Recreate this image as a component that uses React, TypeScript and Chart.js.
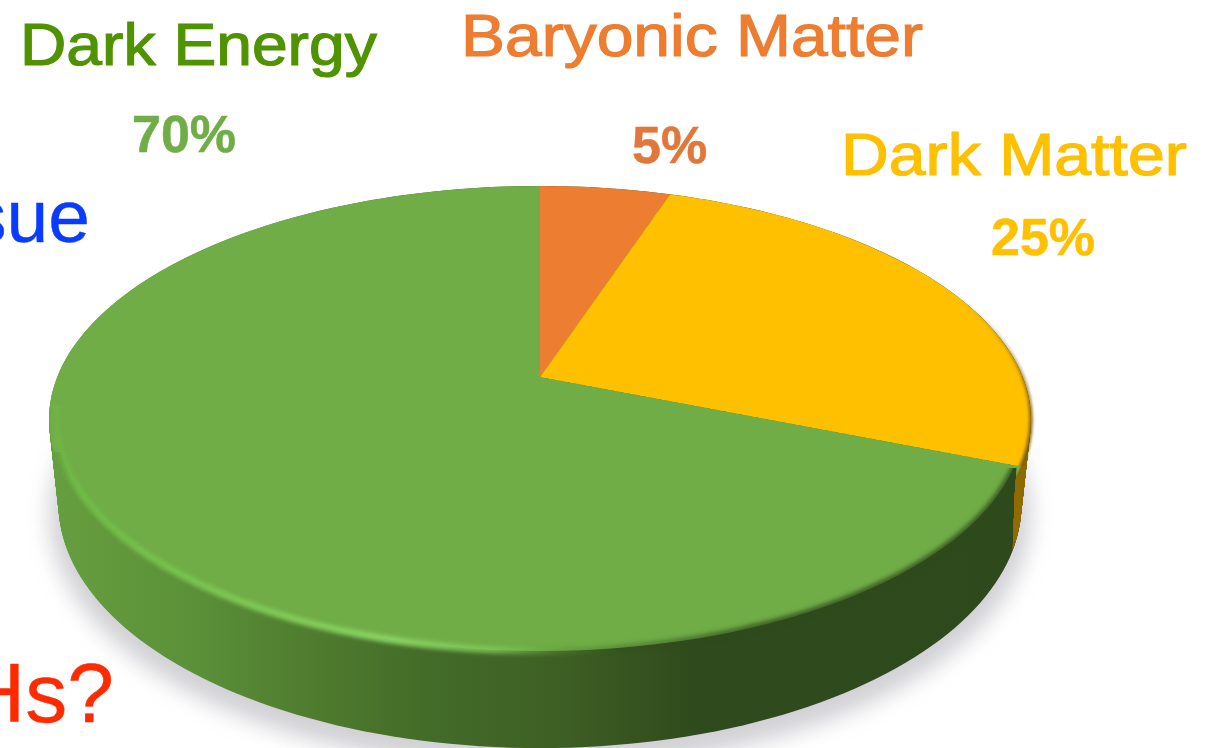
import React, { useEffect, useRef } from "react";
import { Chart, registerables } from "chart.js";

Chart.register(...registerables);

const categories = ["Baryonic Matter", "Dark Matter", "Dark Energy"];
const shares = [5, 25, 70];
const sliceColors = ["#ED7D31", "#FFC000", "#70AD47"];

// Disc geometry: apex on screen, radius in the disc's plane, camera tilt and thickness.
const APEX_X = 540;
const APEX_Y = 377;
const DISC_R = 482.8;
const COS_T = 0.4677;
const SIN_T = 0.884;
const CAMERA = 2345;
const THICKNESS = 96;
const FACE = { cx: 540, cy: 419.5, rx: 491, ry: 233.5 };
const RIDGE = { cx: 540, cy: 420, rx: 484, ry: 231 };
const CANVAS = 1200;

const FONT = '"Liberation Sans", Arial, sans-serif';

type Caption = { text: string; color: string; size: number; base: number; left?: number; right?: number; bold?: boolean; sx?: number };

const captions: Caption[] = [
  { text: categories[2], color: "#4F9300", size: 60, base: 66, left: 20, sx: 1.07 },
  { text: `${shares[2]}%`, color: "#70AD47", size: 52, base: 152, left: 132, bold: true },
  { text: categories[0], color: "#ED7D31", size: 59, base: 57, left: 461, sx: 1.118 },
  { text: `${shares[0]}%`, color: "#E2773A", size: 52, base: 163, left: 632, bold: true },
  { text: categories[1], color: "#FFC000", size: 59, base: 176, left: 841, sx: 1.122 },
  { text: `${shares[1]}%`, color: "#FFC000", size: 52, base: 255, left: 991, bold: true },
  { text: "sue", color: "#0A3CFF", size: 75, base: 242, right: 90 },
  { text: "Hs?", color: "#FF2A00", size: 84, base: 722, right: 114 },
];

// Screen position of a rim point at angle t, h pixels below the disc's top face.
function rim(t: number, h: number): [number, number] {
  const x = DISC_R * Math.cos(t);
  const y = DISC_R * Math.sin(t);
  const k = CAMERA / (CAMERA - (y * SIN_T - h * COS_T));
  return [APEX_X + x * k, APEX_Y + (y * COS_T + h * SIN_T) * k];
}

function rimPath(ctx: CanvasRenderingContext2D, h: number) {
  ctx.beginPath();
  for (let i = 0; i <= 240; i++) {
    const [x, y] = rim((i / 240) * Math.PI * 2, h);
    if (i === 0) ctx.moveTo(x, y);
    else ctx.lineTo(x, y);
  }
  ctx.closePath();
}

function wallGradient(ctx: CanvasRenderingContext2D) {
  const g = ctx.createLinearGradient(48, 0, 1030, 0);
  g.addColorStop(0, "#669F3F");
  g.addColorStop(0.15, "#5B9038");
  g.addColorStop(0.28, "#4E7A2E");
  g.addColorStop(0.4, "#426A28");
  g.addColorStop(0.52, "#3E5F24");
  g.addColorStop(0.66, "#2F4A1C");
  g.addColorStop(1, "#2E4A1C");
  return g;
}

function paintWall(ctx: CanvasRenderingContext2D) {
  // soft contact shadow
  ctx.save();
  ctx.filter = "blur(12px)";
  ctx.fillStyle = "rgba(130,130,140,0.34)";
  ctx.strokeStyle = "rgba(130,130,140,0.34)";
  ctx.lineWidth = 14;
  ctx.translate(0, 11);
  rimPath(ctx, THICKNESS);
  ctx.fill();
  ctx.stroke();
  ctx.restore();

  ctx.fillStyle = wallGradient(ctx);
  for (let h = 0; h <= THICKNESS; h++) {
    rimPath(ctx, h);
    ctx.fill();
  }

  // the sliver of the yellow slice's wall beside the last slice boundary
  ctx.save();
  ctx.beginPath();
  ctx.moveTo(1017, 440);
  ctx.lineTo(1045, 440);
  ctx.lineTo(1045, 570);
  ctx.lineTo(1012, 570);
  ctx.closePath();
  ctx.clip();
  ctx.fillStyle = "#8F6C00";
  for (let h = 0; h <= THICKNESS; h++) {
    rimPath(ctx, h);
    ctx.fill();
  }
  ctx.restore();
}

function paintBevel(ctx: CanvasRenderingContext2D) {
  const F = FACE;
  const R = RIDGE;

  // the band between the face's ridge and its outer rim belongs to the wall
  ctx.save();
  ctx.beginPath();
  ctx.rect(0, 452, 540, 296);
  ctx.rect(540, 468, 476, 280);
  ctx.clip();
  ctx.fillStyle = wallGradient(ctx);
  ctx.beginPath();
  ctx.ellipse(F.cx, F.cy, F.rx + 1, F.ry + 1, 0, 0, Math.PI * 2);
  ctx.ellipse(R.cx, R.cy, R.rx, R.ry, 0, 0, Math.PI * 2);
  ctx.fill("evenodd");
  ctx.restore();

  // light ridge along the near left rim, fading out at both ends
  ctx.save();
  ctx.beginPath();
  ctx.rect(0, 405, 640, 343);
  ctx.clip();
  ctx.filter = "blur(2px)";
  const hi = ctx.createLinearGradient(48, 0, 620, 0);
  hi.addColorStop(0, "rgba(112,190,72,0.15)");
  hi.addColorStop(0.05, "rgba(112,190,72,0.9)");
  hi.addColorStop(0.3, "rgba(124,200,84,1)");
  hi.addColorStop(0.6, "rgba(138,212,100,1)");
  hi.addColorStop(0.78, "rgba(130,202,90,0.8)");
  hi.addColorStop(0.9, "rgba(110,176,70,0.3)");
  hi.addColorStop(1, "rgba(110,176,70,0)");
  ctx.strokeStyle = hi;
  ctx.lineWidth = 7;
  ctx.beginPath();
  ctx.ellipse(R.cx, R.cy, R.rx, R.ry, 0, 0, Math.PI * 2);
  ctx.stroke();
  ctx.restore();

  // shaded rim where the face turns into the dark side of the wall
  ctx.save();
  ctx.beginPath();
  ctx.rect(520, 468, 497, 280);
  ctx.clip();
  ctx.filter = "blur(2.5px)";
  const lo = ctx.createLinearGradient(520, 0, 760, 0);
  lo.addColorStop(0, "rgba(47,74,28,0)");
  lo.addColorStop(1, "rgba(47,74,28,1)");
  ctx.strokeStyle = lo;
  ctx.lineWidth = 5;
  ctx.beginPath();
  ctx.ellipse(R.cx, R.cy, R.rx, R.ry, 0, 0, Math.PI * 2);
  ctx.stroke();
  ctx.restore();

  // dark gold rim on the yellow slice, fading away up the curve
  ctx.save();
  ctx.beginPath();
  ctx.rect(960, 280, 90, 186);
  ctx.clip();
  ctx.filter = "blur(1.5px)";
  const gold = ctx.createLinearGradient(0, 300, 0, 420);
  gold.addColorStop(0, "rgba(125,92,0,0)");
  gold.addColorStop(1, "rgba(125,92,0,0.95)");
  ctx.strokeStyle = gold;
  ctx.lineWidth = 3.5;
  ctx.beginPath();
  ctx.ellipse(F.cx, F.cy, F.rx, F.ry, 0, 0, Math.PI * 2);
  ctx.stroke();
  ctx.restore();
}

export default function App() {
  const wallRef = useRef<HTMLCanvasElement>(null);
  const faceRef = useRef<HTMLCanvasElement>(null);
  const bevelRef = useRef<HTMLCanvasElement>(null);

  useEffect(() => {
    const wall = wallRef.current!.getContext("2d")!;
    wall.clearRect(0, 0, 1217, 748);
    paintWall(wall);
    const bevel = bevelRef.current!.getContext("2d")!;
    bevel.clearRect(0, 0, 1217, 748);
    paintBevel(bevel);

    const chart = new Chart(faceRef.current!, {
      type: "pie",
      data: {
        labels: categories,
        datasets: [{ data: shares, backgroundColor: sliceColors, borderWidth: 0, radius: 585 }],
      },
      options: {
        responsive: false,
        animation: false,
        layout: { padding: 0 },
        plugins: { legend: { display: false }, tooltip: { enabled: false } },
      },
    });
    return () => chart.destroy();
  }, []);

  const layer: React.CSSProperties = { position: "absolute", left: 0, top: 0 };

  return (
    <div style={{ position: "fixed", left: 0, top: 0, width: 1217, height: 748, overflow: "hidden", background: "#fff" }}>
      <canvas ref={wallRef} width={1217} height={748} style={layer} />
      <div
        style={{
          ...layer,
          width: 1217,
          height: 748,
          clipPath: `ellipse(${FACE.rx}px ${FACE.ry}px at ${FACE.cx}px ${FACE.cy}px)`,
        }}
      >
        <canvas
          ref={faceRef}
          width={CANVAS}
          height={CANVAS}
          style={{
            position: "absolute",
            left: APEX_X - CANVAS / 2,
            top: APEX_Y - CANVAS / 2,
            width: CANVAS,
            height: CANVAS,
            transformOrigin: "50% 50%",
            transform: `perspective(${CAMERA}px) rotateX(62.1deg) skewY(4.2deg)`,
          }}
        />
      </div>
      <canvas ref={bevelRef} width={1217} height={748} style={layer} />
      {captions.map((c) => (
        <div
          key={c.text}
          style={{
            position: "absolute",
            left: c.left,
            right: c.right !== undefined ? 1217 - c.right : undefined,
            top: c.base - c.size * 0.8465,
            fontFamily: FONT,
            fontSize: c.size,
            lineHeight: 1,
            fontWeight: c.bold ? 700 : 400,
            color: c.color,
            whiteSpace: "nowrap",
            transformOrigin: "0 0",
            transform: c.sx ? `scaleX(${c.sx})` : undefined,
            WebkitTextStroke: c.bold ? "0.5px" : c.sx ? "1.2px" : "0.4px",
          }}
        >
          {c.text}
        </div>
      ))}
    </div>
  );
}
